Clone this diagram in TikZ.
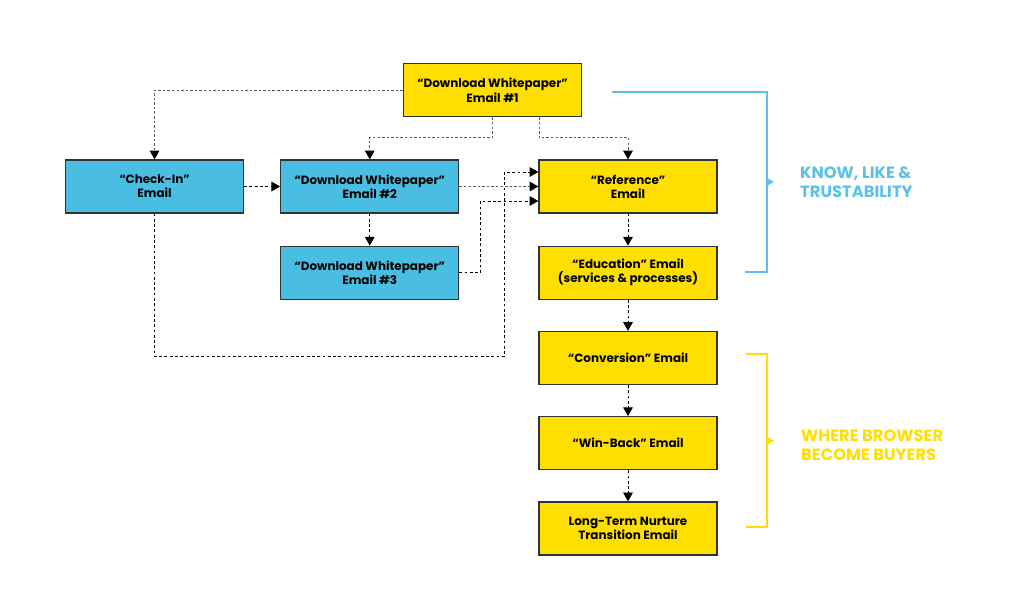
\documentclass[tikz,border=0pt]{standalone}
\usepackage{fontspec}
\setmainfont{Poppins}
\usepackage{xcolor}
\usetikzlibrary{positioning,arrows.meta}

\definecolor{mailyellow}{HTML}{FFDF00}
\definecolor{mailblue}{HTML}{4ABEE2}
\definecolor{brackblue}{HTML}{5BC2E7}

\tikzset{
    mailbox/.style={draw=black!80, line width=0.7pt, rectangle, minimum width=3.56cm, minimum height=1.06cm,
        align=center, font=\fontsize{6.8}{8}\selectfont\bfseries, inner sep=2pt},
    ylw/.style={mailbox, fill=mailyellow},
    blu/.style={mailbox, fill=mailblue},
    flow/.style={draw=black, line width=0.55pt, dash pattern=on 1.6pt off 1.4pt},
    faint/.style={draw=black!65, line width=0.5pt, dash pattern=on 1.4pt off 1.2pt},
    >={Triangle[length=5pt,width=5.5pt,color=black]},
    bracket/.style={line width=0.7pt},
    sidenote/.style={anchor=west, align=left, font=\fontsize{9.3}{10.8}\selectfont\bfseries}
}

\begin{document}
\begin{tikzpicture}[node distance=0.62cm]
    \useasboundingbox (0,0) rectangle (20.48,-12.28);

    % right column
    \node (reference) [ylw] at (12.56,-3.73) {“Reference”\\Email};
    \node (education) [ylw, below=0.64cm of reference] {“Education” Email\\(services \& processes)};
    \node (conversion) [ylw, below=of education] {“Conversion” Email};
    \node (winback) [ylw, below=of conversion] {“Win-Back” Email};
    \node (nurture) [ylw, below=of winback] {Long-Term Nurture\\Transition Email};

    % top and left side
    \node (whitepaper1) [ylw, above=0.84cm of reference, xshift=-2.71cm] {“Download Whitepaper”\\Email \#1};
    \node (whitepaper2) [blu, left=1.58cm of reference] {“Download Whitepaper”\\Email \#2};
    \node (checkin) [blu, left=0.72cm of whitepaper2] {“Check-In”\\Email};
    \node (whitepaper3) [blu, below=0.64cm of whitepaper2] {“Download Whitepaper”\\Email \#3};

    \draw[faint, ->] (whitepaper1.west) -| (checkin.north);
    \draw[faint, ->] (whitepaper1.south) -- ++(0,-0.4) -| (whitepaper2.north);
    \draw[faint, ->] ([xshift=0.93cm]whitepaper1.south) -- ++(0,-0.4) -| (reference.north);
    \draw[flow, ->] (checkin) -- (whitepaper2);
    \draw[faint, ->] (whitepaper2) -- (reference);
    \draw[flow, ->] (whitepaper2) -- (whitepaper3);
    \draw[flow, ->] (whitepaper3.east) -- ++(0.42,0) |- ([yshift=-0.29cm]reference.west);
    \draw[flow, ->] (checkin.south) -- ++(0,-2.86) -| ([xshift=-0.68cm,yshift=0.29cm]reference.west) -- ([yshift=0.29cm]reference.west);

    \draw[flow, ->] (reference) -- (education);
    \draw[flow, ->] (education) -- (conversion);
    \draw[flow, ->] (conversion) -- (winback);
    \draw[flow, ->] (winback) -- (nurture);

    % brackets
    \coordinate (trustA) at (12.24,-1.84);
    \coordinate (trustB) at (15.34,-5.44);
    \coordinate (buyA) at (14.92,-7.08);
    \coordinate (buyB) at (15.34,-10.54);
    \draw[bracket, brackblue] (trustA) -| (trustB) -- ++(-0.44,0);
    \fill[brackblue] (15.34,-3.56) -- ++(0.14,-0.08) -- ++(-0.14,-0.08) -- cycle;
    \draw[bracket, mailyellow] (buyA) -| (buyB) -- ++(-0.42,0);
    \fill[mailyellow] (15.34,-8.74) -- ++(0.14,-0.08) -- ++(-0.14,-0.08) -- cycle;

    \node (trustnote) [sidenote, text=brackblue] at (15.88,-3.65) {KNOW, LIKE \&\\TRUSTABILITY};
    \node (buynote) [sidenote, text=mailyellow] at (15.9,-8.9) {WHERE BROWSER\\BECOME BUYERS};
\end{tikzpicture}
\end{document}
